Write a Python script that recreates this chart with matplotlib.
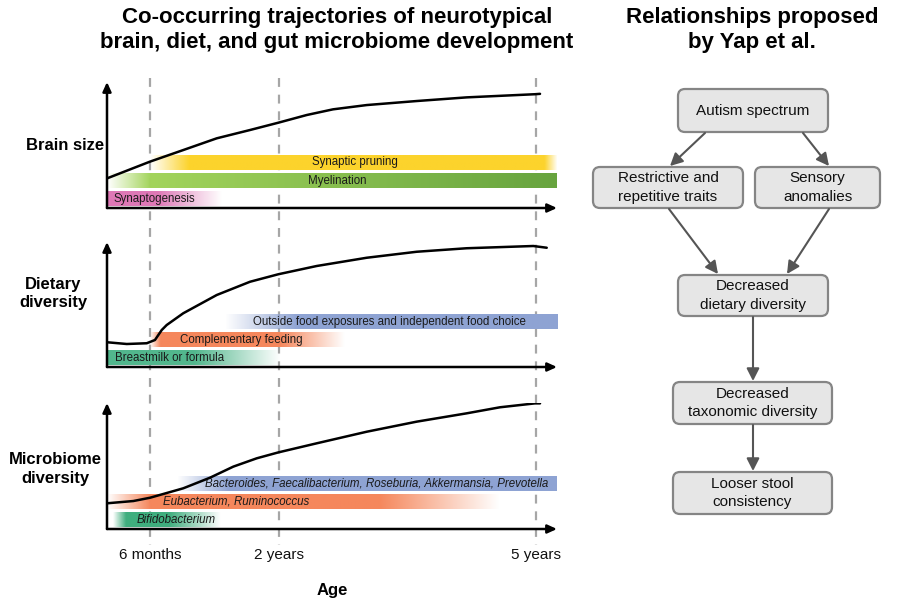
import numpy as np
import matplotlib
matplotlib.use('Agg')
import matplotlib.pyplot as plt
from matplotlib.patches import FancyBboxPatch
from matplotlib.colors import to_rgb

plt.rcParams['font.family'] = ['Liberation Sans', 'DejaVu Sans']

# ---------------- data ----------------
milestone_ages = [0.5, 2, 5]
milestone_labels = ['6 months', '2 years', '5 years']

row_labels = ['Brain size', 'Dietary\ndiversity', 'Microbiome\ndiversity']

brain_age = [0, 0.501, 0.889, 1.279, 1.667, 1.997, 2.328, 2.634, 3.027, 3.610, 4.192, 4.988, 5.047]
brain_level = [0.235, 0.368, 0.460, 0.553, 0.619, 0.677, 0.738, 0.783, 0.817, 0.849, 0.878, 0.903, 0.906]

diet_age = [0, 0.23, 0.463, 0.559, 0.638, 0.696, 0.889, 1.279, 1.667, 1.997, 2.444, 3.027,
            3.610, 4.192, 4.969, 5.125]
diet_level = [0.198, 0.184, 0.190, 0.216, 0.296, 0.336, 0.430, 0.576, 0.682, 0.742, 0.808, 0.874,
              0.922, 0.950, 0.968, 0.954]

micro_age = [0, 0.307, 0.501, 0.889, 1.2, 1.472, 1.745, 1.997, 2.444, 3.027, 3.610, 4.192,
             4.580, 4.988, 5.047]
micro_level = [0.204, 0.222, 0.248, 0.323, 0.407, 0.495, 0.561, 0.608, 0.680, 0.772, 0.852, 0.918,
               0.966, 0.997, 0.997]

brain_bars = ['Synaptic pruning', 'Myelination', 'Synaptogenesis']
brain_bar_start = [0.5, 0.0, 0.0]
brain_bar_end = [5.245, 5.245, 1.34]

diet_bars = ['Outside food exposures and independent food choice', 'Complementary feeding',
             'Breastmilk or formula']
diet_bar_start = [1.375, 0.5, 0.0]
diet_bar_end = [5.245, 2.77, 2.02]

micro_bars = ['Bacteroides, Faecalibacterium, Roseburia, Akkermansia, Prevotella',
              'Eubacterium, Ruminococcus', 'Bifidobacterium']
micro_bar_start = [0.82, 0.0, 0.07]
micro_bar_end = [5.245, 4.58, 1.32]

flow_nodes = ['Autism spectrum', 'Restrictive and\nrepetitive traits', 'Sensory\nanomalies',
              'Decreased\ndietary diversity', 'Decreased\ntaxonomic diversity',
              'Looser stool\nconsistency']
flow_edges = [(0, 1), (0, 2), (1, 3), (2, 3), (3, 4), (4, 5)]

# ---------------- layout / style ----------------
W, H = 908, 604
fig = plt.figure(figsize=(W / 100, H / 100), dpi=100)
AGE_MAX = (557 - 107) / 85.8


def px_axes(x0, ytop, x1, ybot, **kw):
    return fig.add_axes([x0 / W, 1 - ybot / H, (x1 - x0) / W, (ybot - ytop) / H], **kw)


# background axes for dashed milestone lines and tick labels
bg = px_axes(107, 0, 557, 604)
bg.set_xlim(0, AGE_MAX)
bg.set_ylim(H, 0)
bg.axis('off')
for a, lab in zip(milestone_ages, milestone_labels):
    bg.plot([a, a], [78, 545], color='#a6a6a6', lw=1.6, ls=(0, (4, 3.5)), zorder=1)
    bg.text(a, 555, lab, ha='center', va='center', fontsize=11, color='#111111')
bg.text(AGE_MAX * 0.5, 591, 'Age', ha='center', va='center', fontsize=12, fontweight='bold')


def grad_bar(ax, x0, x1, y0, h, c_left, c_right, fade_in, fade_out):
    n = 400
    xs = np.linspace(x0, x1, n)
    alpha = np.ones(n)
    if fade_in > 0:
        alpha = np.minimum(alpha, np.clip((xs - x0) / fade_in, 0, 1))
    if fade_out > 0:
        alpha = np.minimum(alpha, np.clip((x1 - xs) / fade_out, 0, 1))
    cols = np.linspace(to_rgb(c_left), to_rgb(c_right), n)
    img = np.concatenate([cols, alpha[:, None]], axis=1)[None, :, :]
    ax.imshow(img, extent=(x0, x1, y0, y0 + h), aspect='auto',
              interpolation='bilinear', zorder=2)


lanes = [0.305, 0.16, 0.018]
lane_h = 0.113

panels = [
    dict(box=(82, 208), age=brain_age, level=brain_level, bars=brain_bars,
         start=brain_bar_start, end=brain_bar_end,
         colors=[('#fcd32c', '#fcd32c'), ('#a9d95f', '#67a43f'), ('#de78b6', '#de78b6')],
         fades=[(0.45, 0.15), (0.5, 0.0), (0.0, 0.75)],
         text=[(2.89, 'center', 'normal'), (2.68, 'center', 'normal'), (0.07, 'left', 'normal')],
         label=(65, 145)),
    dict(box=(242, 367), age=diet_age, level=diet_level, bars=diet_bars,
         start=diet_bar_start, end=diet_bar_end,
         colors=[('#8ea3d3', '#8ea3d3'), ('#f5875c', '#f5875c'), ('#52b78d', '#52b78d')],
         fades=[(0.85, 0.0), (0.12, 0.75), (0.0, 1.0)],
         text=[(1.70, 'left', 'normal'), (0.85, 'left', 'normal'), (0.09, 'left', 'normal')],
         label=(53, 294)),
    dict(box=(403, 529), age=micro_age, level=micro_level, bars=micro_bars,
         start=micro_bar_start, end=micro_bar_end,
         colors=[('#8ea3d3', '#8ea3d3'), ('#f5875c', '#f5875c'), ('#3fae7e', '#3fae7e')],
         fades=[(0.6, 0.0), (0.5, 1.4), (0.15, 0.6)],
         text=[(1.14, 'left', 'italic'), (0.65, 'left', 'italic'), (0.35, 'left', 'italic')],
         label=(55, 469)),
]

for i, p in enumerate(panels):
    ytop, ybot = p['box']
    ax = px_axes(107, ytop, 557, ybot)
    ax.patch.set_alpha(0)
    for j, name in enumerate(p['bars']):
        (cl, cr), (fi, fo) = p['colors'][j], p['fades'][j]
        grad_bar(ax, p['start'][j], p['end'][j], lanes[j], lane_h, cl, cr, fi, fo)
        tx, ha, style = p['text'][j]
        ax.text(tx, lanes[j] + lane_h / 2, name, ha=ha, va='center', fontsize=8.3,
                style=style, color='#1a1a1a', zorder=3)
    ax.plot(p['age'], p['level'], color='black', lw=1.8, zorder=4,
            solid_capstyle='round', solid_joinstyle='round')
    ax.set_xlim(0, AGE_MAX)
    ax.set_ylim(0, 1)
    ax.axis('off')
    arrow = dict(arrowstyle='-|>,head_length=0.55,head_width=0.25', lw=1.8, color='black',
                 shrinkA=0, shrinkB=0)
    ax.annotate('', xy=(1, 0), xytext=(0, 0), xycoords='axes fraction', arrowprops=arrow)
    ax.annotate('', xy=(0, 1), xytext=(0, 0), xycoords='axes fraction', arrowprops=arrow)

# overlay axes in pixel units for titles, row labels and flowchart
ov = fig.add_axes([0, 0, 1, 1])
ov.set_xlim(0, W)
ov.set_ylim(H, 0)
ov.axis('off')
ov.patch.set_alpha(0)

ov.text(337, 30, 'Co-occurring trajectories of neurotypical\nbrain, diet, and gut microbiome development',
        ha='center', va='center', fontsize=16, fontweight='bold', linespacing=1.25)
ov.text(752, 30, 'Relationships proposed\nby Yap et al.', ha='center', va='center',
        fontsize=16, fontweight='bold', linespacing=1.25)

for lab, p in zip(row_labels, panels):
    x, y = p['label']
    ov.text(x, y, lab, ha='center', va='center', fontsize=12, fontweight='bold', linespacing=1.25)

node_boxes = [(678, 89, 828, 132), (593, 167, 743, 208), (755, 167, 880, 208),
              (678, 275, 828, 316), (673, 382, 832, 424), (673, 472, 832, 514)]
for name, (x0, y0, x1, y1) in zip(flow_nodes, node_boxes):
    ov.add_patch(FancyBboxPatch((x0, y0), x1 - x0, y1 - y0,
                                boxstyle='round,pad=0,rounding_size=7',
                                fc='#e6e6e6', ec='#858585', lw=1.6, zorder=2))
    ov.text((x0 + x1) / 2, (y0 + y1) / 2, name, ha='center', va='center', fontsize=11,
            color='#111111', linespacing=1.45, zorder=3)

edge_pts = [((705, 133), (670, 166)), ((803, 133), (829, 166)), ((669, 209), (718, 274)),
            ((829, 209), (787, 274)), ((753, 317), (753, 381)), ((753, 425), (753, 471))]
for (a, b), ((x0, y0), (x1, y1)) in zip(flow_edges, edge_pts):
    ov.annotate('', xy=(x1, y1), xytext=(x0, y0), xycoords='data',
                arrowprops=dict(arrowstyle='-|>,head_length=0.75,head_width=0.38',
                                lw=1.5, color='#555555', shrinkA=0, shrinkB=0))

fig.savefig('out.png', dpi=100)
